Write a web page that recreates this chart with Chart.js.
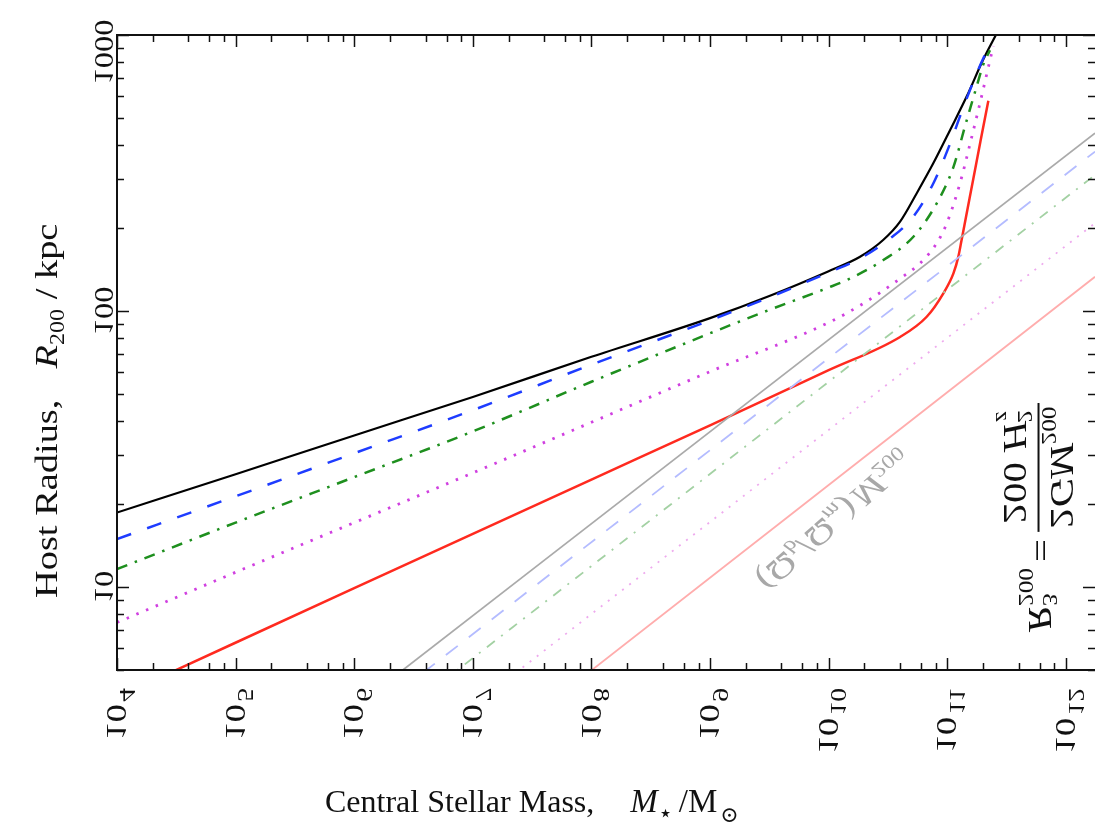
<!DOCTYPE html>
<html>
<head>
<meta charset="utf-8">
<script src="https://cdn.jsdelivr.net/npm/chart.js@4.4.0/dist/chart.umd.min.js"></script>
<style>
  html, body { margin: 0; padding: 0; background: #fff; }
  #wrap { width: 1095px; height: 833px; }
</style>
</head>
<body>
<div id="wrap"><canvas id="chart" width="1095" height="833"></canvas></div>
<script>
// stellar mass (Msun) and host radius R200 (kpc) for each curve
var massBlack = [1e4, 1e5, 1e6, 1e7, 1e8, 1e9, 3.16e9, 1e10, 1.84e10, 2.88e10, 4.0e10, 5.53e10, 7.64e10, 1.06e11, 1.46e11, 2.01e11, 2.6e11];
var rBlack    = [18.6, 25.6, 35.4, 48.8, 68.2, 94.2, 113.3, 139.4, 157.2, 180.7, 210.7, 267.2, 343.4, 453.9, 599.4, 814.7, 1010];

var massBlue = [1e4, 1e5, 1e6, 1e7, 1e8, 1e9, 3.16e9, 1e10, 1.84e10, 3.3e10, 5.18e10, 7.64e10, 1.06e11, 1.28e11, 1.56e11, 2.01e11, 2.19e11];
var rBlue    = [14.9, 21.3, 30.5, 43.7, 63.9, 92.5, 112, 137.9, 155, 183.2, 219.8, 290.4, 405.5, 507, 634, 822, 881];

var massGreen = [1e4, 1e5, 1e6, 1e7, 1e8, 1e9, 3.16e9, 1e10, 1.42e10, 2.89e10, 5.18e10, 8.15e10, 1.13e11, 1.41e11, 1.77e11, 2.0e11, 2.29e11];
var rGreen    = [11.6, 17.1, 25.0, 36.6, 55.4, 83.0, 100.9, 121.6, 129.4, 152.9, 185.8, 245.5, 333.4, 466.7, 651.6, 776, 881];

var massPink = [1e4, 1e5, 1e6, 1e7, 1e8, 1e9, 9.64e9, 2.0e10, 4.0e10, 5.9e10, 8.15e10, 9.91e10, 1.28e11, 1.56e11, 1.89e11, 2.37e11, 2.45e11];
var rPink    = [7.43, 11.3, 17.1, 25.9, 39.5, 60.3, 90.1, 107, 131, 149, 176, 208, 290, 405, 568, 861, 912];

var massRed = [3.0e4, 1e6, 1e8, 1e9, 1e10, 4.0e10, 6.71e10, 9.27e10, 1.127e11, 1.24e11, 1.318e11, 1.445e11, 1.66e11, 1.905e11, 2.22e11];
var rRed    = [4.95, 9.9, 24.5, 38.5, 61.0, 80.5, 95.3, 115.9, 136.8, 157.4, 179.9, 221.3, 302, 412, 578];

// baryon-fraction lines, R ~ M^(1/3)
var massFaint = [1e6, 1.76e12];
var massFaintLate = [1e7, 1.76e12];
var rGray       = [3.65, 441];
var rLightBlue  = [3.13, 378];
var rLightGreen = [2.56, 311];
var rLightPink  = [3.70, 208];
var rLightRed   = [2.30, 133];

var massTicks = [1e4, 1e5, 1e6, 1e7, 1e8, 1e9, 1e10, 1e11, 1e12];
var radiusTicks = [10, 100, 1000];

var SERIF = '"Liberation Serif", "DejaVu Serif", serif';
var STRETCH = 1.2;   // rotated labels run a bit long

function pts(xs, ys) {
    return xs.map(function (x, i) { return { x: x, y: ys[i] }; });
}

function line(data, color, width, dash) {
    return {
        data: data,
        borderColor: color,
        borderWidth: width,
        borderDash: dash || [],
        pointRadius: 0,
        fill: false,
        cubicInterpolationMode: 'monotone'
    };
}

function runWidth(ctx, pieces) {
    var w = 0;
    pieces.forEach(function (p) {
        ctx.font = p.font;
        w += ctx.measureText(p.t).width + (p.gap || 0);
    });
    return w;
}

// draws a run of text pieces along the current x axis
function drawRun(ctx, pieces, align) {
    var w = runWidth(ctx, pieces);
    var u = align === 'center' ? -w / 2 : (align === 'right' ? -w : 0);
    pieces.forEach(function (p) {
        ctx.font = p.font;
        ctx.fillText(p.t, u, p.dy || 0);
        u += ctx.measureText(p.t).width + (p.gap || 0);
    });
    return w;
}

// rotated and mirrored text frame (glyph tops face the other side)
function flipAt(ctx, x, y, ang) {
    var c = Math.cos(ang), s = Math.sin(ang);
    ctx.translate(x, y);
    ctx.transform(c, s, s, -c, 0, 0);
    ctx.scale(STRETCH, 1);
}

var framePlugin = {
    id: 'frame',
    afterDraw: function (chart) {
        var ctx = chart.ctx, a = chart.chartArea;
        var xs = chart.scales.x, ys = chart.scales.y;
        ctx.save();
        ctx.strokeStyle = '#111';
        ctx.lineWidth = 2;
        ctx.beginPath();
        ctx.moveTo(a.right + 2, a.top);
        ctx.lineTo(a.left, a.top);
        ctx.lineTo(a.left, a.bottom);
        ctx.lineTo(a.right + 2, a.bottom);
        ctx.stroke();

        // inward ticks
        ctx.lineWidth = 1.5;
        ctx.beginPath();
        for (var d = 4; d <= 12; d++) {
            [1, 2, 4, 6, 8].forEach(function (k) {
                var v = k * Math.pow(10, d);
                if (v > xs.max) return;
                var px = Math.round(xs.getPixelForValue(v)) + 0.5;
                var len = k === 1 ? 12 : 7;
                ctx.moveTo(px, a.bottom); ctx.lineTo(px, a.bottom - len);
                ctx.moveTo(px, a.top); ctx.lineTo(px, a.top + len);
            });
        }
        for (var e = 0; e <= 3; e++) {
            for (var k = 1; k <= 9; k++) {
                var v = k * Math.pow(10, e);
                if (v < ys.min || v > ys.max) continue;
                var py = Math.round(ys.getPixelForValue(v)) + 0.5;
                var len = k === 1 ? 12 : 7;
                ctx.moveTo(a.left, py); ctx.lineTo(a.left + len, py);
                ctx.moveTo(a.right, py); ctx.lineTo(a.right - len, py);
            }
        }
        ctx.stroke();

        ctx.fillStyle = '#111';
        ctx.textBaseline = 'alphabetic';

        // x tick labels
        var F = 30;
        massTicks.forEach(function (m) {
            var px = xs.getPixelForValue(m);
            ctx.save();
            flipAt(ctx, px - 0.33 * F, a.bottom + 18, -Math.PI / 2);
            drawRun(ctx, [
                { t: '10', font: F + 'px ' + SERIF, gap: 2 },
                { t: String(Math.round(Math.log10(m))), font: Math.round(F * 0.75) + 'px ' + SERIF, dy: -0.42 * F }
            ], 'right');
            ctx.restore();
        });

        // y tick labels
        var FY = 27;
        radiusTicks.forEach(function (r) {
            var py = Math.max(ys.getPixelForValue(r), a.top + 17);
            ctx.save();
            flipAt(ctx, 104 - 0.33 * FY, py, -Math.PI / 2);
            drawRun(ctx, [{ t: String(r), font: FY + 'px ' + SERIF }], 'center');
            ctx.restore();
        });

        // axis titles
        var T = 32;
        ctx.save();
        ctx.translate(325, 812);
        drawRun(ctx, [
            { t: 'Central Stellar Mass,', font: T + 'px ' + SERIF, gap: 36 },
            { t: 'M', font: 'italic 33px ' + SERIF },
            { t: '\u22c6', font: '24px ' + SERIF, dy: 9, gap: 6 },
            { t: '/M', font: '33px ' + SERIF, gap: 3 },
            { t: '\u2299', font: '22px ' + SERIF, dy: 10 }
        ], 'left');
        ctx.restore();

        ctx.save();
        ctx.translate(57, 598);
        ctx.rotate(-Math.PI / 2);
        ctx.scale(STRETCH, 1);
        drawRun(ctx, [
            { t: 'Host Radius,', font: T + 'px ' + SERIF, gap: 26 },
            { t: 'R', font: 'italic ' + T + 'px ' + SERIF },
            { t: '200', font: Math.round(T * 0.62) + 'px ' + SERIF, dy: 7, gap: 8 },
            { t: '/ kpc', font: T + 'px ' + SERIF }
        ], 'left');
        ctx.restore();

        // baryon fraction label along the gray line
        ctx.fillStyle = '#a8a8a8';
        ctx.textBaseline = 'middle';
        var G = 32, g = Math.round(G * 0.62) + 'px ' + SERIF;
        ctx.save();
        flipAt(ctx, 833, 519, -0.72);
        drawRun(ctx, [
            { t: '(\u03a9', font: G + 'px ' + SERIF },
            { t: 'b', font: 'italic ' + g, dy: 8 },
            { t: '/\u03a9', font: G + 'px ' + SERIF },
            { t: 'm', font: 'italic ' + g, dy: 8 },
            { t: ')', font: G + 'px ' + SERIF, gap: 3 },
            { t: 'M', font: 'italic ' + G + 'px ' + SERIF },
            { t: '200', font: g, dy: 8 }
        ], 'center');
        ctx.restore();

        // R^3_200 = 2GM_200 / (200 H_z^2)
        ctx.fillStyle = '#111';
        ctx.textBaseline = 'alphabetic';
        var E = 34, es = Math.round(E * 0.62) + 'px ' + SERIF;
        var ef = E + 'px ' + SERIF, ei = 'italic ' + E + 'px ' + SERIF;
        ctx.save();
        flipAt(ctx, 1029, 632, -Math.PI / 2);
        ctx.font = ei;
        var u = ctx.measureText('R').width;
        ctx.fillText('R', 0, 0);
        ctx.font = es;
        ctx.fillText('3', u + 1, -0.42 * E);
        ctx.fillText('200', u + 1, 0.28 * E);
        u += ctx.measureText('200').width + 6;
        ctx.font = ef;
        ctx.fillText('=', u, 0);
        u += ctx.measureText('=').width + 6;
        var axis = -0.28 * E;
        var num = [
            { t: '2', font: ef },
            { t: 'GM', font: ei },
            { t: '200', font: es, dy: 0.25 * E }
        ];
        var den = [
            { t: '200 ', font: ef },
            { t: 'H', font: ei, gap: 1 },
            { t: 'z', font: 'italic ' + es, dy: 0.25 * E }
        ];
        var wNum = runWidth(ctx, num), wDen = runWidth(ctx, den);
        var wBar = Math.max(wNum, wDen) + 6;
        ctx.save();
        ctx.translate(u + (wBar - wNum) / 2, axis - 12);
        drawRun(ctx, num, 'left');
        ctx.restore();
        ctx.fillRect(u, axis - 1, wBar, 2);
        ctx.save();
        ctx.translate(u + (wBar - wDen) / 2, axis + 12 + 0.66 * E);
        drawRun(ctx, den, 'left');
        ctx.font = es;
        ctx.fillText('2', wDen - ctx.measureText('z').width, -0.42 * E);
        ctx.restore();
        ctx.restore();

        ctx.restore();
    }
};

var config = {
    type: 'line',
    data: {
        datasets: [
            line(pts(massFaintLate, rLightRed), '#ffadad', 1.8),
            line(pts(massFaintLate, rLightPink), '#eeaaee', 1.8, [2, 7]),
            line(pts(massFaint, rLightGreen), '#a3d1a3', 1.8, [10, 8, 2, 8]),
            line(pts(massFaint, rLightBlue), '#b4bcff', 1.8, [15, 14]),
            line(pts(massFaint, rGray), '#aaaaaa', 1.8),
            line(pts(massRed, rRed), '#ff2a1f', 2.5),
            line(pts(massPink, rPink), '#d040e0', 2.8, [2.5, 8]),
            line(pts(massGreen, rGreen), '#1e8f1e', 2.5, [11, 8, 2.5, 8]),
            line(pts(massBlue, rBlue), '#1e3cff', 2.5, [15, 17]),
            line(pts(massBlack, rBlack), '#000000', 2.2)
        ]
    },
    options: {
        responsive: false,
        animation: false,
        events: [],
        layout: { padding: { left: 117, right: 0, top: 35, bottom: 163 } },
        plugins: { legend: { display: false }, tooltip: { enabled: false } },
        scales: {
            x: { type: 'logarithmic', min: 1e4, max: 1.76e12, display: false },
            y: { type: 'logarithmic', min: 5, max: 1000, display: false }
        }
    },
    plugins: [framePlugin]
};

window.onload = function () {
    var ctx = document.getElementById('chart').getContext('2d');
    window.radiusChart = new Chart(ctx, config);
};
</script>
</body>
</html>
